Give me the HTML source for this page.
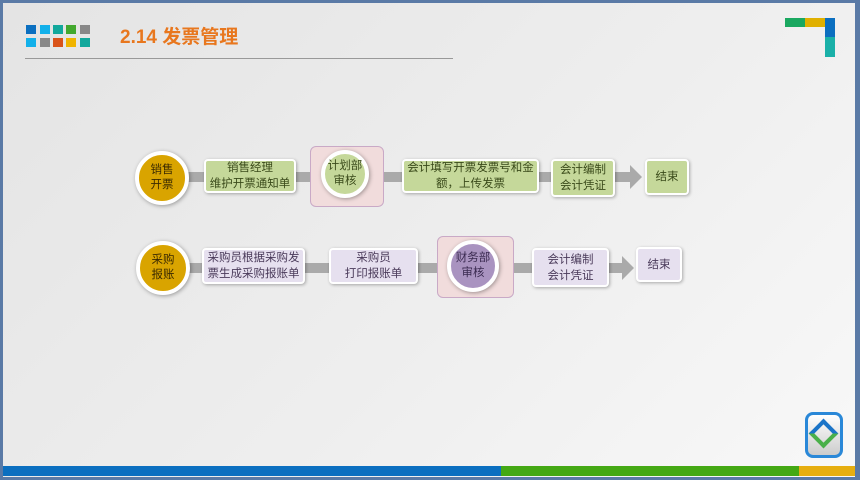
<!DOCTYPE html>
<html><head><meta charset="utf-8"><style>
body{margin:0;width:860px;height:480px;overflow:hidden;background:#5a7aa6;font-family:"Liberation Sans","Noto Sans CJK SC",sans-serif}
#s{position:absolute;left:3px;top:3px;width:852px;height:474px;background:linear-gradient(135deg,#e4e4e4,#eeeeee 55%,#f8f8f8)}
.a{position:absolute}
.bx{position:absolute;border:2px solid #fff;border-radius:4px;box-shadow:1px 1px 3px rgba(0,0,0,.3);display:flex;align-items:center;justify-content:center;text-align:center;font-size:11.5px;line-height:16px}
.g{background:#c5d89a;color:#3a4a1a}
.p{background:#e6e0ef;color:#4a3a5a}
.c{position:absolute;border:4px solid #fff;border-radius:50%;box-shadow:1px 1px 4px rgba(0,0,0,.35);display:flex;align-items:center;justify-content:center;text-align:center;font-size:11.5px;line-height:15px;box-sizing:border-box}
.pk{position:absolute;background:#f1dcdc;border:1px solid #c9a9c6;border-radius:6px}
.ln{position:absolute;height:10px;background:#aaaaaa}
.ar{position:absolute;width:0;height:0;border-top:12px solid transparent;border-bottom:12px solid transparent;border-left:12px solid #aaaaaa}
</style></head><body><div id="s"></div>
<div class="a" style="left:26px;top:25px;width:10px;height:9px;background:#0b6fc0"></div>
<div class="a" style="left:40px;top:25px;width:10px;height:9px;background:#12b0ea"></div>
<div class="a" style="left:53px;top:25px;width:10px;height:9px;background:#12a89c"></div>
<div class="a" style="left:66px;top:25px;width:10px;height:9px;background:#43a82e"></div>
<div class="a" style="left:80px;top:25px;width:10px;height:9px;background:#888"></div>
<div class="a" style="left:26px;top:38px;width:10px;height:9px;background:#12b0ea"></div>
<div class="a" style="left:40px;top:38px;width:10px;height:9px;background:#888"></div>
<div class="a" style="left:53px;top:38px;width:10px;height:9px;background:#d9531a"></div>
<div class="a" style="left:66px;top:38px;width:10px;height:9px;background:#f0b400"></div>
<div class="a" style="left:80px;top:38px;width:10px;height:9px;background:#12a89c"></div>
<div class="a" style="left:120px;top:22px;font-size:19px;font-weight:bold;color:#e8771e">2.14 发票管理</div>
<div class="a" style="left:25px;top:58px;width:428px;height:1px;background:#999"></div>
<div class="a" style="left:785px;top:18px;width:20px;height:9px;background:#1aa860"></div>
<div class="a" style="left:805px;top:18px;width:20px;height:9px;background:#e0b000"></div>
<div class="a" style="left:825px;top:18px;width:10px;height:19px;background:#0b6fc0"></div>
<div class="a" style="left:825px;top:37px;width:10px;height:20px;background:#1ab0a8"></div>
<div class="a" style="left:805px;top:412px;width:32px;height:40px;border:3px solid #2a88d8;border-radius:8px;background:linear-gradient(#fff,#ccc)"></div>
<div class="a" style="left:813px;top:423px;width:13px;height:13px;border:4px solid #1a74c8;transform:rotate(45deg);border-right-color:#4ab04a;border-bottom-color:#4ab04a"></div>
<div class="a" style="left:3px;top:466px;width:498px;height:10px;background:#0b6fc0"></div>
<div class="a" style="left:501px;top:466px;width:298px;height:10px;background:#44a814"></div>
<div class="a" style="left:799px;top:466px;width:56px;height:10px;background:#e6ae10"></div>
<!-- row 1 -->
<div class="ln" style="left:185px;top:172px;width:448px"></div>
<div class="ar" style="left:630px;top:165px"></div>
<div class="c" style="left:135px;top:151px;width:54px;height:54px;background:#d9a400;color:#3a2a00">销售<br>开票</div>
<div class="bx g" style="left:204px;top:159px;width:88px;height:30px">销售经理<br>维护开票通知单</div>
<div class="pk" style="left:310px;top:146px;width:72px;height:59px"></div>
<div class="c" style="left:321px;top:150px;width:48px;height:48px;background:#c5d89a;color:#3a4a1a">计划部<br>审核</div>
<div class="bx g" style="left:402px;top:159px;width:133px;height:30px">会计填写开票发票号和金<br>额，上传发票</div>
<div class="bx g" style="left:551px;top:159px;width:60px;height:34px">会计编制<br>会计凭证</div>
<div class="bx g" style="left:645px;top:159px;width:40px;height:32px">结束</div>
<!-- row 2 -->
<div class="ln" style="left:185px;top:263px;width:440px"></div>
<div class="ar" style="left:622px;top:256px"></div>
<div class="c" style="left:136px;top:241px;width:54px;height:54px;background:#d9a400;color:#3a2a00">采购<br>报账</div>
<div class="bx p" style="left:202px;top:248px;width:99px;height:32px">采购员根据采购发<br>票生成采购报账单</div>
<div class="bx p" style="left:329px;top:248px;width:85px;height:32px">采购员<br>打印报账单</div>
<div class="pk" style="left:437px;top:236px;width:75px;height:60px"></div>
<div class="c" style="left:447px;top:240px;width:52px;height:52px;background:#a993c0;color:#3a2a50">财务部<br>审核</div>
<div class="bx p" style="left:532px;top:248px;width:73px;height:35px">会计编制<br>会计凭证</div>
<div class="bx p" style="left:636px;top:247px;width:42px;height:31px">结束</div>
</body></html>
